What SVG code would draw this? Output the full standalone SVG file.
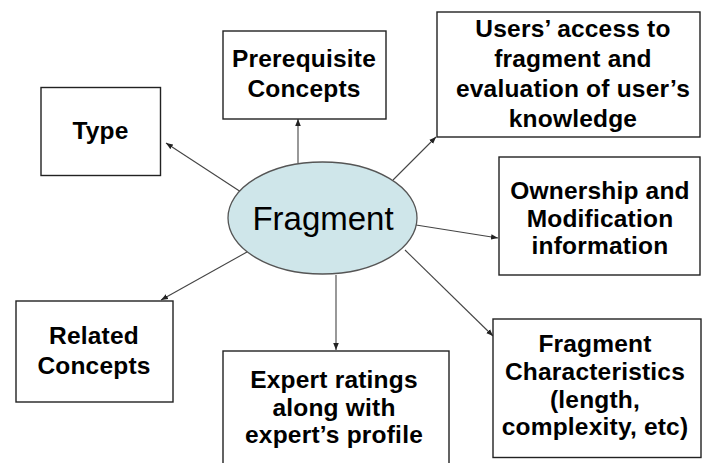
<svg xmlns="http://www.w3.org/2000/svg" width="702" height="463" viewBox="0 0 702 463">
<defs>
<style>
.box{fill:#fff;stroke:#222;stroke-width:1.4}
.t{font-family:"Liberation Sans",Arial,sans-serif;font-weight:bold;font-size:24.5px;letter-spacing:0.2px;fill:#000;text-anchor:middle}
.c{stroke:#444;stroke-width:1.1;fill:none;marker-end:url(#ah)}
</style>
<marker id="ah" viewBox="0 0 10 10" refX="10" refY="5" markerWidth="7" markerHeight="7" markerUnits="userSpaceOnUse" orient="auto">
<path d="M0,1 L10,5 L0,9 z" fill="#222"/>
</marker>
</defs>
<rect width="702" height="463" fill="#fff"/>
<g id="connectors">
<line class="c" x1="241" y1="192" x2="166" y2="143"/>
<line class="c" x1="298" y1="163" x2="298" y2="119"/>
<line class="c" x1="393" y1="180" x2="436" y2="137"/>
<line class="c" x1="416" y1="225" x2="498" y2="238"/>
<line class="c" x1="405" y1="250" x2="493" y2="336"/>
<line class="c" x1="336" y1="275" x2="336" y2="350"/>
<line class="c" x1="247" y1="252" x2="161" y2="300"/>
</g>
<g id="fragment">
<ellipse cx="322.5" cy="218" rx="94.5" ry="56" fill="#cfe6ea" stroke="#555" stroke-width="1.3"/>
<text x="323" y="230" style="font-family:'Liberation Sans',Arial,sans-serif;font-size:33px;text-anchor:middle">Fragment</text>
</g>
<g id="type">
<rect class="box" x="41" y="87.5" width="119.5" height="88"/>
<text class="t" x="100.5" y="139">Type</text>
</g>
<g id="prerequisite">
<rect class="box" x="223" y="31" width="163" height="88"/>
<text class="t" x="304" y="67">Prerequisite</text>
<text class="t" x="304" y="97">Concepts</text>
</g>
<g id="users-access">
<rect class="box" x="437" y="12" width="263" height="125"/>
<text class="t" x="573" y="37">Users’ access to</text>
<text class="t" x="573" y="67">fragment and</text>
<text class="t" x="573" y="97">evaluation of user’s</text>
<text class="t" x="573" y="127">knowledge</text>
</g>
<g id="ownership">
<rect class="box" x="499" y="157" width="201" height="118"/>
<text class="t" x="600" y="199">Ownership and</text>
<text class="t" x="600" y="227">Modification</text>
<text class="t" x="600" y="254">information</text>
</g>
<g id="characteristics">
<rect class="box" x="493" y="319" width="208" height="138.5"/>
<text class="t" x="595" y="352">Fragment</text>
<text class="t" x="595" y="380">Characteristics</text>
<text class="t" x="595" y="408">(length,</text>
<text class="t" x="595" y="435">complexity, etc)</text>
</g>
<g id="expert">
<rect class="box" x="223" y="351" width="226" height="115"/>
<text class="t" x="334" y="388">Expert ratings</text>
<text class="t" x="334" y="416">along with</text>
<text class="t" x="334" y="443">expert’s profile</text>
</g>
<g id="related">
<rect class="box" x="16" y="301" width="157" height="101"/>
<text class="t" x="94" y="344">Related</text>
<text class="t" x="94" y="374">Concepts</text>
</g>
</svg>
